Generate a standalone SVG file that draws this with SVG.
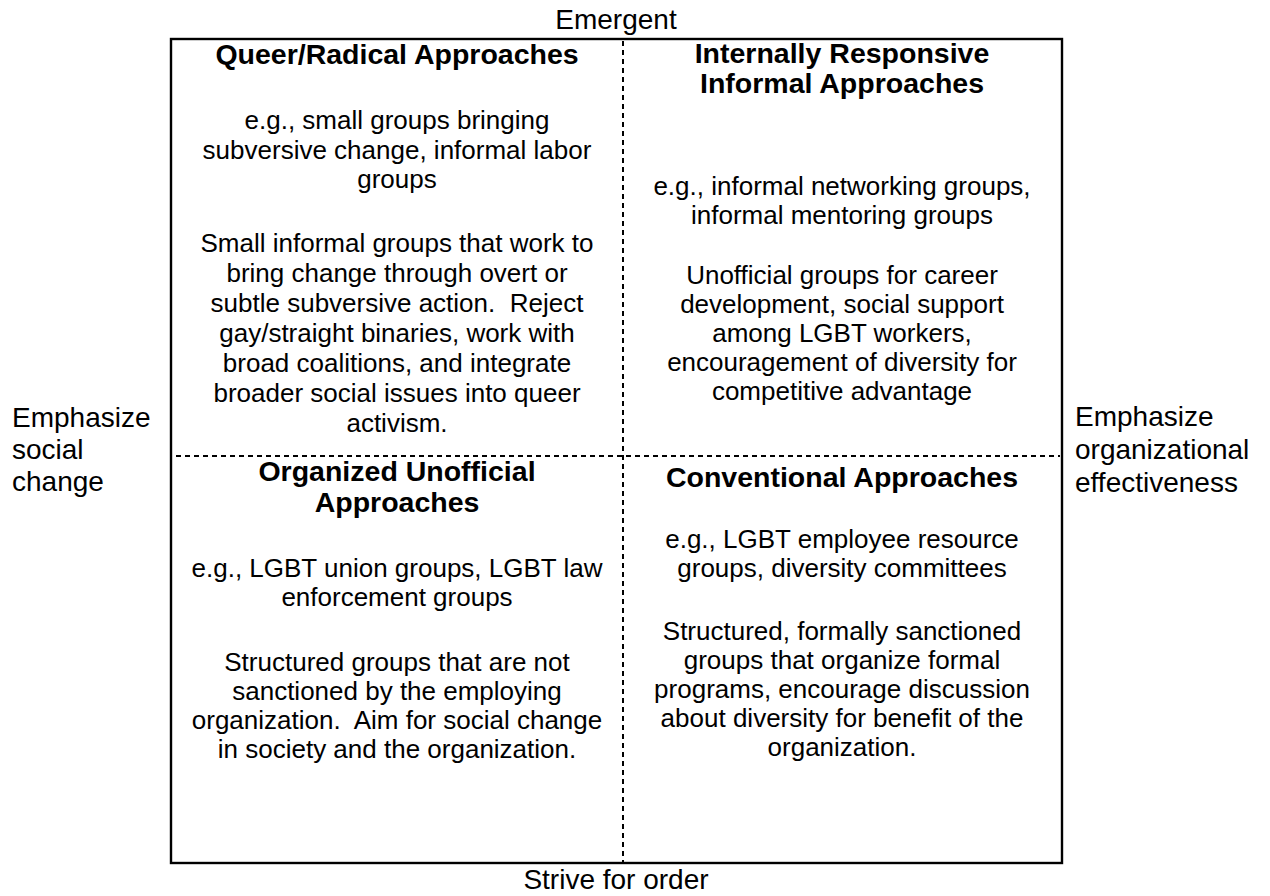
<svg xmlns="http://www.w3.org/2000/svg" width="1270" height="896" viewBox="0 0 1270 896">
<style>
text{font-family:"Liberation Sans",Arial,sans-serif;fill:#000}
.b{font-size:26px}
.t{font-size:28.5px;font-weight:bold}
.ax{font-size:28px}
.c{text-anchor:middle}
.d{stroke:#000;stroke-width:2;stroke-dasharray:5 4;fill:none}
</style>
<rect width="1270" height="896" fill="#fff"/>
<g id="connectors">
<rect x="171" y="39" width="891" height="824" fill="none" stroke="#000" stroke-width="2.4"/>
<line class="d" x1="623" y1="41" x2="623" y2="862"/>
<line class="d" x1="176" y1="456" x2="1060" y2="456"/>
</g>
<g id="axis-top"><text class="ax c" x="616" y="29">Emergent</text></g>
<g id="axis-bottom"><text class="ax c" x="616" y="889">Strive for order</text></g>
<g id="axis-left"><text class="ax" x="12" y="427">Emphasize</text><text class="ax" x="12" y="459">social</text><text class="ax" x="12" y="491">change</text></g>
<g id="axis-right"><text class="ax" x="1075" y="426">Emphasize</text><text class="ax" x="1075" y="459">organizational</text><text class="ax" x="1075" y="492">effectiveness</text></g>
<g id="q1">
<text class="t c" x="397" y="64">Queer/Radical Approaches</text>
<text class="b c" x="397" y="129">e.g., small groups bringing</text>
<text class="b c" x="397" y="159">subversive change, informal labor</text>
<text class="b c" x="397" y="188">groups</text>
<text class="b c" x="397" y="252">Small informal groups that work to</text>
<text class="b c" x="397" y="282">bring change through overt or</text>
<text class="b c" x="397" y="312" xml:space="preserve">subtle subversive action.  Reject</text>
<text class="b c" x="397" y="342">gay/straight binaries, work with</text>
<text class="b c" x="397" y="372">broad coalitions, and integrate</text>
<text class="b c" x="397" y="402">broader social issues into queer</text>
<text class="b c" x="397" y="432">activism.</text>
</g>
<g id="q2">
<text class="t c" x="842" y="63">Internally Responsive</text>
<text class="t c" x="842" y="93">Informal Approaches</text>
<text class="b c" x="842" y="195">e.g., informal networking groups,</text>
<text class="b c" x="842" y="224">informal mentoring groups</text>
<text class="b c" x="842" y="284">Unofficial groups for career</text>
<text class="b c" x="842" y="313">development, social support</text>
<text class="b c" x="842" y="342">among LGBT workers,</text>
<text class="b c" x="842" y="371">encouragement of diversity for</text>
<text class="b c" x="842" y="400">competitive advantage</text>
</g>
<g id="q3">
<text class="t c" x="397" y="481">Organized Unofficial</text>
<text class="t c" x="397" y="512">Approaches</text>
<text class="b c" x="397" y="577">e.g., LGBT union groups, LGBT law</text>
<text class="b c" x="397" y="606">enforcement groups</text>
<text class="b c" x="397" y="671">Structured groups that are not</text>
<text class="b c" x="397" y="700">sanctioned by the employing</text>
<text class="b c" x="397" y="729" xml:space="preserve">organization.  Aim for social change</text>
<text class="b c" x="397" y="758">in society and the organization.</text>
</g>
<g id="q4">
<text class="t c" x="842" y="487">Conventional Approaches</text>
<text class="b c" x="842" y="548">e.g., LGBT employee resource</text>
<text class="b c" x="842" y="577">groups, diversity committees</text>
<text class="b c" x="842" y="640">Structured, formally sanctioned</text>
<text class="b c" x="842" y="669">groups that organize formal</text>
<text class="b c" x="842" y="698">programs, encourage discussion</text>
<text class="b c" x="842" y="727">about diversity for benefit of the</text>
<text class="b c" x="842" y="756">organization.</text>
</g>
</svg>
